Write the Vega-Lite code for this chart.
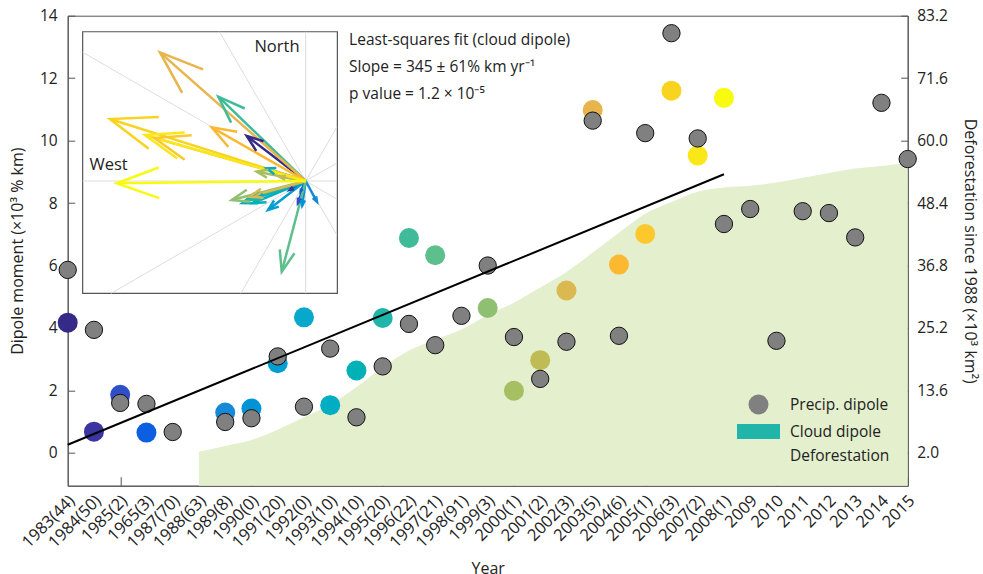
{
  "$schema": "https://vega.github.io/schema/vega-lite/v6.json",
  "width": 840,
  "height": 470,
  "autosize": {"type": "none"},
  "padding": {"left": 67.7, "top": 15.7, "right": 75.3, "bottom": 88.3},
  "background": "white",
  "config": {
    "font": "Open Sans",
    "view": {"stroke": "#555555", "strokeWidth": 1},
    "axis": {"domainColor": "#555555", "tickColor": "#555555", "labelColor": "#222222", "titleColor": "#222222", "labelFontSize": 15.5, "titleFontSize": 16, "titleFontWeight": "normal", "grid": false, "labelFont": "Open Sans", "titleFont": "Open Sans"},
    "legend": {"labelFont": "Open Sans"}
  },
  "datasets": {
    "dipole": [
      {"year": 1983, "precip": 5.86, "cloud": 4.17},
      {"year": 1984, "precip": 3.94, "cloud": 0.68},
      {"year": 1985, "precip": 1.60, "cloud": 1.86},
      {"year": 1986, "precip": 1.57, "cloud": 0.65},
      {"year": 1987, "precip": 0.67, "cloud": null},
      {"year": 1988, "precip": null, "cloud": null},
      {"year": 1989, "precip": 0.99, "cloud": 1.29},
      {"year": 1990, "precip": 1.11, "cloud": 1.42},
      {"year": 1991, "precip": 3.09, "cloud": 2.87},
      {"year": 1992, "precip": 1.48, "cloud": 4.34},
      {"year": 1993, "precip": 3.34, "cloud": 1.53},
      {"year": 1994, "precip": 1.14, "cloud": 2.64},
      {"year": 1995, "precip": 2.77, "cloud": 4.32},
      {"year": 1996, "precip": 4.13, "cloud": 6.88},
      {"year": 1997, "precip": 3.45, "cloud": 6.33},
      {"year": 1998, "precip": 4.39, "cloud": null},
      {"year": 1999, "precip": 6.00, "cloud": 4.64},
      {"year": 2000, "precip": 3.71, "cloud": 1.99},
      {"year": 2001, "precip": 2.37, "cloud": 2.97},
      {"year": 2002, "precip": 3.56, "cloud": 5.20},
      {"year": 2003, "precip": 10.64, "cloud": 10.98},
      {"year": 2004, "precip": 3.75, "cloud": 6.03},
      {"year": 2005, "precip": 10.24, "cloud": 7.01},
      {"year": 2006, "precip": 13.44, "cloud": 11.60},
      {"year": 2007, "precip": 10.07, "cloud": 9.52},
      {"year": 2008, "precip": 7.33, "cloud": 11.37},
      {"year": 2009, "precip": 7.81, "cloud": null},
      {"year": 2010, "precip": 3.59, "cloud": null},
      {"year": 2011, "precip": 7.74, "cloud": null},
      {"year": 2012, "precip": 7.68, "cloud": null},
      {"year": 2013, "precip": 6.90, "cloud": null},
      {"year": 2014, "precip": 11.21, "cloud": null},
      {"year": 2015, "precip": 9.41, "cloud": null}
    ],
    "forest": [
      {"year": 1988, "area": 2.2}, {"year": 1989, "area": 3.3}, {"year": 1990, "area": 4.4},
      {"year": 1991, "area": 6.3}, {"year": 1992, "area": 8.6}, {"year": 1993, "area": 11.0},
      {"year": 1994, "area": 14.2}, {"year": 1995, "area": 17.9}, {"year": 1996, "area": 21.0},
      {"year": 1997, "area": 23.0}, {"year": 1998, "area": 24.9}, {"year": 1999, "area": 27.6},
      {"year": 2000, "area": 29.9}, {"year": 2001, "area": 32.7}, {"year": 2002, "area": 35.6},
      {"year": 2003, "area": 39.2}, {"year": 2004, "area": 42.9}, {"year": 2005, "area": 46.4},
      {"year": 2006, "area": 48.6}, {"year": 2007, "area": 50.5}, {"year": 2008, "area": 51.3},
      {"year": 2009, "area": 51.6}, {"year": 2010, "area": 52.2}, {"year": 2011, "area": 53.1},
      {"year": 2012, "area": 54.0}, {"year": 2013, "area": 54.8}, {"year": 2014, "area": 55.3},
      {"year": 2015, "area": 55.9}
    ],
    "arrows": [
      {"year": 1983, "e0": 0, "n0": 0, "e": -3.35, "n": 2.56, "mag": 4.22, "bearing": 307.4},
      {"year": 1984, "e0": 0, "n0": 0, "e": -0.91, "n": -0.51, "mag": 1.04, "bearing": 240.7},
      {"year": 1985, "e0": 0, "n0": 0, "e": -0.44, "n": -1.25, "mag": 1.33, "bearing": 199.4},
      {"year": 1986, "e0": 0, "n0": 0, "e": -0.28, "n": -0.57, "mag": 0.64, "bearing": 206.2},
      {"year": 1989, "e0": 0, "n0": 0, "e": 0.64, "n": -1.18, "mag": 1.34, "bearing": 151.5},
      {"year": 1990, "e0": 0, "n0": 0, "e": -0.2, "n": -1.4, "mag": 1.41, "bearing": 188.1},
      {"year": 1991, "e0": 0, "n0": 0, "e": -2.14, "n": -1.65, "mag": 2.70, "bearing": 232.4},
      {"year": 1992, "e0": 0, "n0": 0, "e": -2.22, "n": 0.72, "mag": 2.33, "bearing": 288.0},
      {"year": 1993, "e0": 0, "n0": 0, "e": -3.0, "n": -1.25, "mag": 3.25, "bearing": 247.4},
      {"year": 1994, "e0": 0, "n0": 0, "e": -3.6, "n": -1.25, "mag": 3.81, "bearing": 250.9},
      {"year": 1995, "e0": 0, "n0": 0, "e": -3.3, "n": -1.05, "mag": 3.46, "bearing": 252.3},
      {"year": 1996, "e0": 0, "n0": 0, "e": -4.96, "n": 4.79, "mag": 6.90, "bearing": 314.0},
      {"year": 1997, "e0": 0, "n0": 0, "e": -1.36, "n": -5.15, "mag": 5.33, "bearing": 194.8},
      {"year": 1999, "e0": 0, "n0": 0, "e": -4.2, "n": -1.08, "mag": 4.34, "bearing": 255.6},
      {"year": 2000, "e0": 0, "n0": 0, "e": -2.78, "n": 0.53, "mag": 2.83, "bearing": 280.8},
      {"year": 2001, "e0": 0, "n0": 0, "e": -1.48, "n": 0.24, "mag": 1.50, "bearing": 279.2},
      {"year": 2002, "e0": 0, "n0": 0, "e": -3.18, "n": -0.89, "mag": 3.30, "bearing": 254.4},
      {"year": 2003, "e0": 0, "n0": 0, "e": -8.28, "n": 7.31, "mag": 11.05, "bearing": 311.4},
      {"year": 2004, "e0": 0, "n0": 0, "e": -5.34, "n": 3.05, "mag": 6.15, "bearing": 299.7},
      {"year": 2005, "e0": 0, "n0": 0, "e": -8.6, "n": 2.45, "mag": 8.94, "bearing": 285.9},
      {"year": 2006, "e0": 0, "n0": 0, "e": -11.12, "n": 3.52, "mag": 11.66, "bearing": 287.6},
      {"year": 2007, "e0": 0, "n0": 0, "e": -9.13, "n": 2.61, "mag": 9.50, "bearing": 286.0},
      {"year": 2008, "e0": 0, "n0": 0, "e": -10.74, "n": -0.13, "mag": 10.74, "bearing": 269.3}
    ],
    "radials": [
      {"e0": 0, "n0": 0, "e": 1.78, "n": 0}, {"e0": 0, "n0": 0, "e": 1.78, "n": 1.028}, {"e0": 0, "n0": 0, "e": 1.78, "n": 3.08},
      {"e0": 0, "n0": 0, "e": 0, "n": 8.48}, {"e0": 0, "n0": 0, "e": -4.898, "n": 8.48}, {"e0": 0, "n0": 0, "e": -12.67, "n": 7.315},
      {"e0": 0, "n0": 0, "e": -12.67, "n": 0}, {"e0": 0, "n0": 0, "e": -11.06, "n": -6.38}, {"e0": 0, "n0": 0, "e": -3.683, "n": -6.38},
      {"e0": 0, "n0": 0, "e": 0, "n": -6.38}, {"e0": 0, "n0": 0, "e": 1.78, "n": -3.08}, {"e0": 0, "n0": 0, "e": 1.78, "n": -1.028}
    ],
    "box": [{"e0": -12.67, "e1": 1.8, "n0": -6.38, "n1": 8.48}],
    "one": [{"k": 1}]
  },
  "layer": [
    {
      "layer": [
        {
          "data": {"name": "forest"},
          "mark": {"type": "area", "color": "#e3efcd", "interpolate": "monotone"},
          "encoding": {
            "x": {
              "field": "year", "type": "quantitative",
              "scale": {"domain": [1983, 2015], "nice": false, "zero": false},
              "axis": {
                "values": [1983,1984,1985,1986,1987,1988,1989,1990,1991,1992,1993,1994,1995,1996,1997,1998,1999,2000,2001,2002,2003,2004,2005,2006,2007,2008,2009,2010,2011,2012,2013,2014,2015],
                "labelExpr": "['1983(44)','1984(50)','1985(2)','1965(3)','1987(70)','1988(63)','1989(8)','1990(0)','1991(20)','1992(0)','1993(10)','1994(10)','1995(20)','1996(22)','1997(21)','1998(91)','1999(3)','2000(1)','2001(2)','2002(3)','2003(5)','2004(6)','2005(1)','2006(3)','2007(2)','2008(1)','2009','2010','2011','2012','2013','2014','2015'][datum.value - 1983]",
                "labelAngle": -45, "labelAlign": "right", "labelBaseline": "middle", "labelFontSize": 16.5,
                "tickSize": -9,
                "tickOpacity": {"condition": {"test": "datum.value % 5 == 0", "value": 1}, "value": 0},
                "labelPadding": 21, "labelOffset": 4, "labelOverlap": false, "labelFlush": false, "labelBound": false,
                "title": "Year", "titlePadding": 10
              }
            },
            "y": {
              "field": "area", "type": "quantitative",
              "scale": {"domain": [-4.09, 83.2], "nice": false, "zero": false},
              "axis": {
                "orient": "right",
                "values": [2.0, 13.6, 25.2, 36.8, 48.4, 60.0, 71.6, 83.2],
                "format": ".1f", "tickSize": -7, "labelPadding": 16,
                "title": "Deforestation since 1988 (×10³ km²)", "titlePadding": 14
              }
            },
            "y2": {"datum": -4.09}
          }
        },
        {
          "layer": [
            {
              "data": {"name": "dipole"},
              "transform": [{"filter": "isValid(datum.cloud)"}],
              "mark": {"type": "point", "filled": true, "size": 400, "opacity": 1, "strokeWidth": 0},
              "encoding": {
                "x": {
                  "field": "year", "type": "quantitative",
                  "axis": {
                    "values": [1983,1984,1985,1986,1987,1988,1989,1990,1991,1992,1993,1994,1995,1996,1997,1998,1999,2000,2001,2002,2003,2004,2005,2006,2007,2008,2009,2010,2011,2012,2013,2014,2015],
                    "labelExpr": "['1983(44)','1984(50)','1985(2)','1965(3)','1987(70)','1988(63)','1989(8)','1990(0)','1991(20)','1992(0)','1993(10)','1994(10)','1995(20)','1996(22)','1997(21)','1998(91)','1999(3)','2000(1)','2001(2)','2002(3)','2003(5)','2004(6)','2005(1)','2006(3)','2007(2)','2008(1)','2009','2010','2011','2012','2013','2014','2015'][datum.value - 1983]",
                    "labelAngle": -45, "labelAlign": "right", "labelBaseline": "middle", "labelFontSize": 16.5,
                    "tickSize": -9,
                    "tickOpacity": {"condition": {"test": "datum.value % 5 == 0", "value": 1}, "value": 0},
                    "labelPadding": 21, "labelOffset": 4, "labelOverlap": false, "labelFlush": false, "labelBound": false,
                    "title": "Year", "titlePadding": 10
                  }
                },
                "y": {
                  "field": "cloud", "type": "quantitative",
                  "scale": {"domain": [-1.05, 14], "nice": false, "zero": false},
                  "axis": {"values": [0, 2, 4, 6, 8, 10, 12, 14], "tickSize": -7, "labelPadding": 17.5, "title": "Dipole moment (×10³ % km)", "titlePadding": 14}
                },
                "color": {
                  "field": "year", "type": "quantitative", "legend": null,
                  "scale": {
                    "type": "linear",
                    "domain": [1983, 1984, 1985, 1986, 1989, 1992, 1995, 1997, 1999, 2002, 2003, 2004, 2005, 2006, 2008],
                    "range": ["#352a87", "#3b35a0", "#2f4fc8", "#0c5fe0", "#1688d8", "#08a8cc", "#20b5a8", "#5cbf8c", "#8fbf70", "#dcb850", "#e8b44c", "#fdb832", "#fcc82c", "#f8d420", "#f8fa10"]
                  }
                }
              }
            },
            {
              "data": {"name": "dipole"},
              "transform": [{"filter": "isValid(datum.precip)"}],
              "mark": {"type": "point", "filled": true, "size": 300, "opacity": 1, "stroke": "#111111", "strokeWidth": 1},
              "encoding": {
                "x": {
                  "field": "year", "type": "quantitative",
                  "axis": {
                    "values": [1983,1984,1985,1986,1987,1988,1989,1990,1991,1992,1993,1994,1995,1996,1997,1998,1999,2000,2001,2002,2003,2004,2005,2006,2007,2008,2009,2010,2011,2012,2013,2014,2015],
                    "labelExpr": "['1983(44)','1984(50)','1985(2)','1965(3)','1987(70)','1988(63)','1989(8)','1990(0)','1991(20)','1992(0)','1993(10)','1994(10)','1995(20)','1996(22)','1997(21)','1998(91)','1999(3)','2000(1)','2001(2)','2002(3)','2003(5)','2004(6)','2005(1)','2006(3)','2007(2)','2008(1)','2009','2010','2011','2012','2013','2014','2015'][datum.value - 1983]",
                    "labelAngle": -45, "labelAlign": "right", "labelBaseline": "middle", "labelFontSize": 16.5,
                    "tickSize": -9,
                    "tickOpacity": {"condition": {"test": "datum.value % 5 == 0", "value": 1}, "value": 0},
                    "labelPadding": 21, "labelOffset": 4, "labelOverlap": false, "labelFlush": false, "labelBound": false,
                    "title": "Year", "titlePadding": 10
                  }
                },
                "y": {"field": "precip", "type": "quantitative", "scale": {"domain": [-1.05, 14], "nice": false, "zero": false}},
                "fill": {
                  "datum": "Precip. dipole",
                  "type": "nominal",
                  "scale": {"domain": ["Precip. dipole", "Cloud dipole", "Deforestation"], "range": ["#808080", "#20b5a8", "rgba(255,255,255,0)"]},
                  "legend": {
                    "title": null, "orient": "none", "legendX": 680.3, "legendY": 378.3, "padding": 0,
                    "labelFontSize": 15.5, "labelColor": "#222222", "labelOffset": 21, "rowPadding": 4,
                    "symbolSize": 400, "symbolStrokeColor": "#000000", "symbolStrokeWidth": 1, "labelLimit": 300
                  }
                },
                "shape": {
                  "datum": "Precip. dipole",
                  "type": "nominal",
                  "scale": {"domain": ["Precip. dipole", "Cloud dipole", "Deforestation"], "range": ["circle", "M-2.15,-0.75H2.15V0.75H-2.15Z", "M-1.8,-0.6H1.8V0.6H-1.8Z"]},
                  "legend": {
                    "title": null, "orient": "none", "legendX": 680.3, "legendY": 378.3, "padding": 0,
                    "labelFontSize": 15.5, "labelColor": "#222222", "labelOffset": 21, "rowPadding": 4,
                    "symbolSize": 400, "symbolStrokeColor": "#000000", "symbolStrokeWidth": 1, "labelLimit": 300
                  }
                }
              }
            },
            {
              "data": {"name": "dipole"},
              "transform": [{"filter": "isValid(datum.cloud)"}, {"regression": "cloud", "on": "year"}],
              "mark": {"type": "line", "color": "#000000", "strokeWidth": 2},
              "encoding": {
                "x": {
                  "field": "year", "type": "quantitative",
                  "axis": {
                    "values": [1983,1984,1985,1986,1987,1988,1989,1990,1991,1992,1993,1994,1995,1996,1997,1998,1999,2000,2001,2002,2003,2004,2005,2006,2007,2008,2009,2010,2011,2012,2013,2014,2015],
                    "labelExpr": "['1983(44)','1984(50)','1985(2)','1965(3)','1987(70)','1988(63)','1989(8)','1990(0)','1991(20)','1992(0)','1993(10)','1994(10)','1995(20)','1996(22)','1997(21)','1998(91)','1999(3)','2000(1)','2001(2)','2002(3)','2003(5)','2004(6)','2005(1)','2006(3)','2007(2)','2008(1)','2009','2010','2011','2012','2013','2014','2015'][datum.value - 1983]",
                    "labelAngle": -45, "labelAlign": "right", "labelBaseline": "middle", "labelFontSize": 16.5,
                    "tickSize": -9,
                    "tickOpacity": {"condition": {"test": "datum.value % 5 == 0", "value": 1}, "value": 0},
                    "labelPadding": 21, "labelOffset": 4, "labelOverlap": false, "labelFlush": false, "labelBound": false,
                    "title": "Year", "titlePadding": 10
                  }
                },
                "y": {"field": "cloud", "type": "quantitative", "scale": {"domain": [-1.05, 14], "nice": false, "zero": false}}
              }
            },
            {
              "data": {"name": "one"},
              "mark": {"type": "text", "align": "left", "baseline": "top", "fontSize": 15.5, "lineHeight": 27, "color": "#222222", "font": "Open Sans"},
              "encoding": {
                "x": {
                  "datum": 1993.72, "type": "quantitative",
                  "axis": {
                    "values": [1983,1984,1985,1986,1987,1988,1989,1990,1991,1992,1993,1994,1995,1996,1997,1998,1999,2000,2001,2002,2003,2004,2005,2006,2007,2008,2009,2010,2011,2012,2013,2014,2015],
                    "labelExpr": "['1983(44)','1984(50)','1985(2)','1965(3)','1987(70)','1988(63)','1989(8)','1990(0)','1991(20)','1992(0)','1993(10)','1994(10)','1995(20)','1996(22)','1997(21)','1998(91)','1999(3)','2000(1)','2001(2)','2002(3)','2003(5)','2004(6)','2005(1)','2006(3)','2007(2)','2008(1)','2009','2010','2011','2012','2013','2014','2015'][datum.value - 1983]",
                    "labelAngle": -45, "labelAlign": "right", "labelBaseline": "middle", "labelFontSize": 16.5,
                    "tickSize": -9,
                    "tickOpacity": {"condition": {"test": "datum.value % 5 == 0", "value": 1}, "value": 0},
                    "labelPadding": 21, "labelOffset": 4, "labelOverlap": false, "labelFlush": false, "labelBound": false,
                    "title": "Year", "titlePadding": 10
                  }
                },
                "y": {"datum": 13.46, "type": "quantitative", "scale": {"domain": [-1.05, 14], "nice": false, "zero": false}},
                "text": {"value": ["Least-squares fit (cloud dipole)", "Slope = 345 ± 61% km yr⁻¹", "p value = 1.2 × 10⁻⁵"]}
              }
            }
          ]
        }
      ],
      "resolve": {"scale": {"y": "independent"}}
    },
    {
      "layer": [
        {
          "data": {"name": "box"},
          "mark": {"type": "rect", "fill": "white", "stroke": "#555555", "strokeWidth": 1.2},
          "encoding": {
            "x": {"field": "e0", "type": "quantitative", "scale": {"domain": [-13.52, 34.2], "nice": false, "zero": false}, "axis": null},
            "x2": {"field": "e1"},
            "y": {"field": "n1", "type": "quantitative", "scale": {"domain": [-17.31, 9.392], "nice": false, "zero": false}, "axis": null},
            "y2": {"field": "n0"}
          }
        },
        {
          "data": {"name": "radials"},
          "mark": {"type": "rule", "color": "#dddddd", "strokeWidth": 1},
          "encoding": {
            "x": {"field": "e0", "type": "quantitative", "scale": {"domain": [-13.52, 34.2], "nice": false, "zero": false}, "axis": null},
            "y": {"field": "n0", "type": "quantitative", "scale": {"domain": [-17.31, 9.392], "nice": false, "zero": false}, "axis": null},
            "x2": {"field": "e"},
            "y2": {"field": "n"}
          }
        },
        {
          "data": {"name": "arrows"},
          "mark": {"type": "rule", "strokeWidth": 2.5},
          "encoding": {
            "x": {"field": "e0", "type": "quantitative", "scale": {"domain": [-13.52, 34.2], "nice": false, "zero": false}, "axis": null},
            "y": {"field": "n0", "type": "quantitative", "scale": {"domain": [-17.31, 9.392], "nice": false, "zero": false}, "axis": null},
            "x2": {"field": "e"},
            "y2": {"field": "n"},
            "color": {"field": "year", "type": "quantitative", "legend": null}
          }
        },
        {
          "data": {"name": "arrows"},
          "mark": {"type": "point", "filled": false, "opacity": 1, "strokeWidth": 2.5, "shape": "M-0.34,0.94L0,0L0.34,0.94", "strokeJoin": "miter"},
          "encoding": {
            "x": {"field": "e", "type": "quantitative", "scale": {"domain": [-13.52, 34.2], "nice": false, "zero": false}, "axis": null},
            "y": {"field": "n", "type": "quantitative", "scale": {"domain": [-17.31, 9.392], "nice": false, "zero": false}, "axis": null},
            "angle": {"field": "bearing", "type": "quantitative", "scale": {"domain": [0, 360], "range": [0, 360]}},
            "size": {"field": "mag", "type": "quantitative", "legend": null, "scale": {"type": "pow", "exponent": 2, "domain": [0, 12], "range": [0, 10112], "zero": true}},
            "color": {"field": "year", "type": "quantitative", "legend": null}
          }
        },
        {
          "data": {"name": "one"},
          "mark": {"type": "text", "fontSize": 16.5, "color": "#222222", "align": "center", "baseline": "middle", "font": "Open Sans"},
          "encoding": {
            "x": {"datum": -1.63, "type": "quantitative", "scale": {"domain": [-13.52, 34.2], "nice": false, "zero": false}, "axis": null},
            "y": {"datum": 7.64, "type": "quantitative", "scale": {"domain": [-17.31, 9.392], "nice": false, "zero": false}, "axis": null},
            "text": {"value": "North"}
          }
        },
        {
          "data": {"name": "one"},
          "mark": {"type": "text", "fontSize": 16.5, "color": "#222222", "align": "center", "baseline": "middle", "font": "Open Sans"},
          "encoding": {
            "x": {"datum": -11.2, "type": "quantitative", "scale": {"domain": [-13.52, 34.2], "nice": false, "zero": false}, "axis": null},
            "y": {"datum": 0.91, "type": "quantitative", "scale": {"domain": [-17.31, 9.392], "nice": false, "zero": false}, "axis": null},
            "text": {"value": "West"}
          }
        }
      ]
    }
  ],
  "resolve": {"scale": {"x": "independent", "y": "independent"}}
}
